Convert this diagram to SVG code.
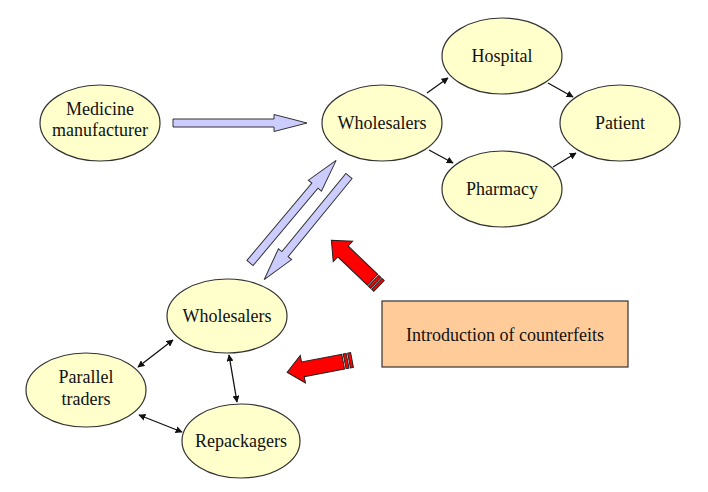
<svg xmlns="http://www.w3.org/2000/svg" width="708" height="492" viewBox="0 0 708 492">
<style>
.node ellipse{fill:#FFFFCC;stroke:#333;stroke-width:1.2}
.node text,.box text{font-family:"Liberation Serif","Times New Roman",serif;font-size:18px;fill:#111;text-anchor:middle}
.con{stroke:#111;stroke-width:1.3;fill:none}
.blue{fill:#CCCCFF;stroke:#333;stroke-width:1}
.red{fill:#FF0000;stroke:#222;stroke-width:1}
</style>
<defs>
<marker id="ah" viewBox="0 0 10 10" refX="9" refY="5" markerWidth="7" markerHeight="7" orient="auto-start-reverse" markerUnits="userSpaceOnUse">
<path d="M0,0 L10,5 L0,10 z" fill="#111"/>
</marker>
<polygon id="barrow" class="blue" points="0,-4 101,-4 101,-8.5 134,0 101,8.5 101,4 0,4"/>
<g id="rarrow">
<rect class="red" x="0" y="-7.5" width="3" height="15"/>
<rect class="red" x="4.5" y="-7.5" width="3" height="15"/>
<polygon class="red" points="9,-7.5 50,-7.5 50,-14 66,0 50,14 50,7.5 9,7.5"/>
</g>
</defs>
<rect width="708" height="492" fill="#fff"/>
<g id="connectors">
<use href="#barrow" transform="translate(173,123)"/>
<use href="#barrow" transform="translate(250,263) rotate(-50)"/>
<use href="#barrow" transform="translate(349,176) rotate(129.3)"/>
<use href="#rarrow" transform="translate(379,286) rotate(-136.2)"/>
<use href="#rarrow" transform="translate(352,360) rotate(169.3)"/>
<line class="con" x1="427" y1="93" x2="448" y2="78" marker-end="url(#ah)"/>
<line class="con" x1="548" y1="83" x2="573" y2="97" marker-end="url(#ah)"/>
<line class="con" x1="429" y1="150" x2="453" y2="163" marker-end="url(#ah)"/>
<line class="con" x1="553" y1="167" x2="576" y2="153" marker-end="url(#ah)"/>
<line class="con" x1="138" y1="367" x2="173" y2="340" marker-start="url(#ah)" marker-end="url(#ah)"/>
<line class="con" x1="229" y1="355" x2="237" y2="402" marker-start="url(#ah)" marker-end="url(#ah)"/>
<line class="con" x1="139" y1="415" x2="182" y2="432" marker-start="url(#ah)" marker-end="url(#ah)"/>
</g>
<g id="manufacturer" class="node"><ellipse cx="100" cy="123" rx="60" ry="38"/><text x="100" y="115">Medicine</text><text x="100" y="136">manufacturer</text></g>
<g id="wholesalers1" class="node"><ellipse cx="382" cy="123" rx="60" ry="38"/><text x="382" y="129">Wholesalers</text></g>
<g id="hospital" class="node"><ellipse cx="502" cy="56" rx="60" ry="38"/><text x="502" y="62">Hospital</text></g>
<g id="pharmacy" class="node"><ellipse cx="502" cy="189" rx="60" ry="38"/><text x="502" y="195">Pharmacy</text></g>
<g id="patient" class="node"><ellipse cx="620" cy="123" rx="60" ry="38"/><text x="620" y="129">Patient</text></g>
<g id="wholesalers2" class="node"><ellipse cx="227" cy="316" rx="60" ry="37"/><text x="227" y="322">Wholesalers</text></g>
<g id="parallel" class="node"><ellipse cx="86" cy="390" rx="60" ry="37"/><text x="86" y="383">Parallel</text><text x="86" y="405">traders</text></g>
<g id="repackagers" class="node"><ellipse cx="241" cy="441" rx="59" ry="37"/><text x="241" y="447">Repackagers</text></g>
<g id="counterfeits" class="box"><rect x="382" y="301" width="246" height="66" fill="#FFCC99" stroke="#333" stroke-width="1.2"/><text x="505" y="341">Introduction of counterfeits</text></g>
</svg>
